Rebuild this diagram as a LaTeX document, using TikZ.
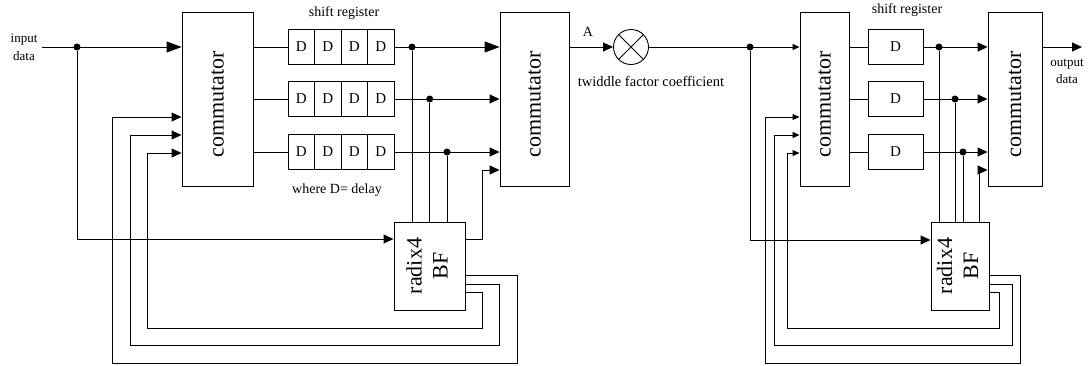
\documentclass[tikz,border=0pt]{standalone}
\usepackage{fontspec}
\setmainfont{Liberation Serif}
\usepackage{graphicx}
\usetikzlibrary{arrows.meta}
\begin{document}
\begin{tikzpicture}[x=1pt,y=-1pt, line width=0.9pt,
  box/.style={draw, inner sep=0pt, minimum height=174pt, font=\fontsize{22}{26}\selectfont},
  bf/.style={draw, inner sep=0pt, minimum height=88pt, font=\fontsize{22}{26}\selectfont},
  cell/.style={draw, inner sep=0pt, minimum width=26.5pt, minimum height=35pt, font=\fontsize{15}{17}\selectfont},
  cellw/.style={draw, inner sep=0pt, minimum width=55pt, minimum height=35pt, font=\fontsize{15}{17}\selectfont},
  lbl/.style={inner sep=0pt, font=\fontsize{14}{17}\selectfont},
  arr/.style={-{Triangle[length=10pt,width=9pt]}},
  arrs/.style={-{Triangle[length=7pt,width=6pt]}},
  arrb/.style={-{Triangle[length=15pt,width=11pt]}},
  dot/.style={circle, fill, inner sep=0pt, minimum size=7pt}
]
\useasboundingbox (0,0) rectangle (1090,365);

% ---------- left stage ----------
\node[lbl, align=center, font=\fontsize{13}{18}\selectfont] (inlbl) at (24,47) {input\\data};
\coordinate (in) at (42,47);
\node[box, minimum width=71pt] (com1) at (217.5,99) {\rotatebox{90}{commutator\hspace*{10pt}}};
\node[box, minimum width=69pt] (com2) at (534.5,99) {\rotatebox{90}{commutator\hspace*{10pt}}};
\node[bf, minimum width=71pt] (rad1) at (429.5,266) {\rotatebox{90}{\begin{tabular}{@{}c@{}}radix4\\BF\end{tabular}}};

\foreach \r/\y in {1/47,2/99,3/152}{
  \node[cell] (c\r1) at (301.25,\y) {D};
  \node[cell] (c\r2) at (327.75,\y) {D};
  \node[cell] (c\r3) at (354.25,\y) {D};
  \node[cell] (c\r4) at (380.75,\y) {D};
  \draw (com1.east |- c\r1) -- (c\r1.west);
}
\node[lbl] (sr1) at (344,13) {shift register};
\node[lbl] (wd) at (337,190) {where D= delay};

\node[dot] (j1) at (77,47) {};
\draw[arrb] (in) -- (com1.west |- in);
\draw[arr] (j1) |- (rad1.west |- 0,239);

\node[dot] (d1) at (412,47) {};
\node[dot] (d2) at (429.7,99) {};
\node[dot] (d3) at (447,152) {};
\draw[arrb] (c14.east) -- (com2.west |- c14);
\draw[arr] (c24.east) -- (com2.west |- c24);
\draw[arr] (c34.east) -- (com2.west |- c34);
\draw (d1) -- (d1 |- rad1.north);
\draw (d2) -- (d2 |- rad1.north);
\draw (d3) -- (d3 |- rad1.north);
\draw[arr] (rad1.east |- 0,239) -| (482,170) -- (com2.west |- 0,170);

\draw[arr] (rad1.east |- 0,275) -| (517,363) -| (112,117) -- (com1.west |- 0,117);
\draw[arr] (rad1.east |- 0,284) -| (499,345) -| (130,135) -- (com1.west |- 0,135);
\draw[arr] (rad1.east |- 0,292) -| (482,328) -| (147,153) -- (com1.west |- 0,153);

% ---------- twiddle ----------
\node[draw, circle, minimum size=35pt, inner sep=0pt] (mult) at (631,47) {};
\draw (mult.north west) -- (mult.south east);
\draw (mult.north east) -- (mult.south west);
\draw[arr] (com2.east |- mult) -- (mult.west);
\node[lbl] (A) at (588,32) {A};
\node[lbl, font=\fontsize{14.5}{17}\selectfont] (tw) at (651,81) {twiddle factor coefficient};

% ---------- right stage ----------
\node[box, minimum width=49pt] (com3) at (824.5,99) {\rotatebox{90}{commutator\hspace*{10pt}}};
\node[box, minimum width=54pt] (com4) at (1015,99) {\rotatebox{90}{commutator\hspace*{10pt}}};
\node[bf, minimum width=58pt] (rad2) at (960,266) {\rotatebox{90}{\begin{tabular}{@{}c@{}}radix4\\BF\end{tabular}}};

\node[dot] (j2) at (750,47) {};
\draw[arrs] (mult.east) -- (com3.west |- mult);
\draw[arr] (j2) |- (rad2.west |- 0,240);

\foreach \r/\y in {1/47,2/99,3/152}{
  \node[cellw] (e\r) at (895.5,\y) {D};
  \draw (com3.east |- e\r) -- (e\r.west);
  \draw[arr] (e\r.east) -- (com4.west |- e\r);
}
\node[lbl] (sr2) at (907,10) {shift register};

\node[dot] (f1) at (939,47) {};
\node[dot] (f2) at (955,99) {};
\node[dot] (f3) at (963,152) {};
\draw (f1) -- (f1 |- rad2.north);
\draw (f2) -- (f2 |- rad2.north);
\draw (f3) -- (f3 |- rad2.north);
\coordinate (q) at (979,170);
\draw[arr] (rad2.north -| q) |- (com4.west |- q);

\draw[arrs] (rad2.east |- 0,275) -| (1020,363) -| (765.7,117) -- (com3.west |- 0,117);
\draw[arrs] (rad2.east |- 0,284) -| (1012,345) -| (774,135) -- (com3.west |- 0,135);
\draw[arrs] (rad2.east |- 0,292) -| (999,328) -| (787,153) -- (com3.west |- 0,153);

\coordinate (out) at (1082,47);
\draw[arr] (com4.east |- out) -- (out);
\node[lbl, align=center, font=\fontsize{13}{17}\selectfont] (outlbl) at (1067,71.5) {output\\data};
\end{tikzpicture}
\end{document}
